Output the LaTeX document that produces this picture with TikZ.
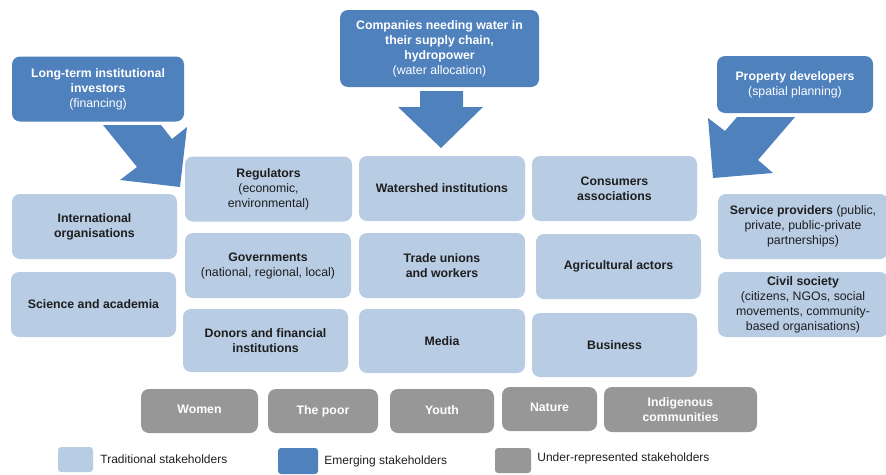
\documentclass[tikz,border=0pt]{standalone}
\usepackage{fontspec}
\setmainfont{Liberation Sans}
\usetikzlibrary{positioning}

\definecolor{tradblue}{HTML}{B8CCE4}
\definecolor{emergblue}{HTML}{4F81BD}
\definecolor{undergrey}{HTML}{979797}
\definecolor{boxtext}{HTML}{1E1E1E}

\tikzset{
	stake/.style = {rounded corners = 8pt, align = center, inner sep = 2pt, font = \fontsize{12.3}{15}\selectfont},
	trad/.style = {stake, fill = tradblue, text = boxtext},
	emerg/.style = {stake, fill = emergblue, text = white},
	under/.style = {stake, fill = undergrey, text = white, font = \fontsize{12.3}{15}\selectfont\bfseries},
	legbox/.style = {rounded corners = 3pt, minimum width = 35pt, minimum height = 25pt, inner sep = 0pt},
	legtext/.style = {inner sep = 0pt, anchor = west, text = boxtext, font = \fontsize{12}{14}\selectfont}
}

\begin{document}
\begin{tikzpicture}[x = 1pt, y = -1pt]
					\useasboundingbox (0, 0) rectangle (886, 474);
					% block arrows
					\fill [emergblue] (103, 125) -- (161, 125) -- (172, 139) -- (187, 127) -- (180, 187) -- (120, 180) -- (137, 167) -- cycle;
					\fill [emergblue] (420, 91) -- (463, 91) -- (463, 107) -- (483, 107) -- (441, 148) -- (398, 107) -- (420, 107) -- cycle;
					\fill [emergblue] (737, 117) -- (795, 117) -- (758, 160) -- (773, 173) -- (713, 178) -- (708, 118) -- (725, 131) -- cycle;
					% emerging stakeholders
					\node [emerg, minimum width = 172, minimum height = 65] (invest) at (98, 89) {\textbf{Long-term institutional}\\\textbf{investors}\\(financing)};
					\node [emerg, minimum width = 199, minimum height = 77] (compan) at (439.5, 48.5) {\textbf{Companies needing water in}\\\textbf{their supply chain,}\\\textbf{hydropower}\\(water allocation)};
					\node [emerg, minimum width = 156, minimum height = 57] (propdev) at (795, 84.5) {\textbf{Property developers}\\(spatial planning)};
					% traditional stakeholders
					\node [trad, minimum width = 165, minimum height = 65] (intorg) at (94.5, 226.5) {\textbf{International}\\\textbf{organisations}};
					\node [trad, minimum width = 165, minimum height = 65] (science) at (93.5, 304.5) {\textbf{Science and academia}};
					\node [trad, minimum width = 167, minimum height = 65] (regul) at (268.5, 189) {\textbf{Regulators}\\(economic,\\environmental)};
					\node [trad, minimum width = 166, minimum height = 65] (govern) at (268, 265.5) {\textbf{Governments}\\(national, regional, local)};
					\node [trad, minimum width = 165, minimum height = 63] (donors) at (265.5, 340.5) {\textbf{Donors and financial}\\\textbf{institutions}};
					\node [trad, minimum width = 166, minimum height = 65] (watshed) at (442, 188.5) {\textbf{Watershed institutions}};
					\node [trad, minimum width = 166, minimum height = 65] (unions) at (442, 265.5) {\textbf{Trade unions}\\\textbf{and workers}};
					\node [trad, minimum width = 166, minimum height = 64] (media) at (442, 341) {\textbf{Media}};
					\node [trad, minimum width = 165, minimum height = 65] (consum) at (614.5, 188.5) {\textbf{Consumers}\\\textbf{associations}};
					\node [trad, minimum width = 165, minimum height = 65] (agric) at (618.5, 266.5) {\textbf{Agricultural actors}};
					\node [trad, minimum width = 165, minimum height = 64] (business) at (614.5, 345) {\textbf{Business}};
					\node [trad, minimum width = 170, minimum height = 65] (service) at (803, 226.5) {\textbf{Service providers} (public,\\private, public-private\\partnerships)};
					\node [trad, minimum width = 170, minimum height = 65] (civil) at (803, 304.5) {\textbf{Civil society}\\(citizens, NGOs, social\\movements, community-\\based organisations)};
					% under-represented stakeholders
					\node [under, minimum width = 117, minimum height = 44] (women) at (199.5, 411) {Women\vphantom{p}};
					\node [under, minimum width = 110, minimum height = 44] (poor) at (323, 411) {The poor};
					\node [under, minimum width = 104, minimum height = 44] (youth) at (442, 411) {Youth\vphantom{p}};
					\node [under, minimum width = 95, minimum height = 44] (nature) at (549.5, 409) {Nature\vphantom{p}};
					\node [under, minimum width = 153, minimum height = 45] (indigen) at (680.5, 409.5) {Indigenous\\communities};
					% legend
					\node [legbox, fill = tradblue] (legtrad) at (75.5, 459.5) {};
					\node [legtext, right = 7pt of legtrad] (legtradtext) {Traditional stakeholders};
					\node [legbox, fill = emergblue, minimum width = 40pt, minimum height = 26pt] (legemerg) at (298, 461) {};
					\node [legtext, right = 6pt of legemerg] (legemergtext) {Emerging stakeholders};
					\node [legbox, fill = undergrey, minimum width = 36pt] (legunder) at (513, 460.5) {};
					\node [legtext, right = 6pt of legunder, yshift = 2pt] (legundertext) {Under-represented stakeholders};
				\end{tikzpicture}
\end{document}
